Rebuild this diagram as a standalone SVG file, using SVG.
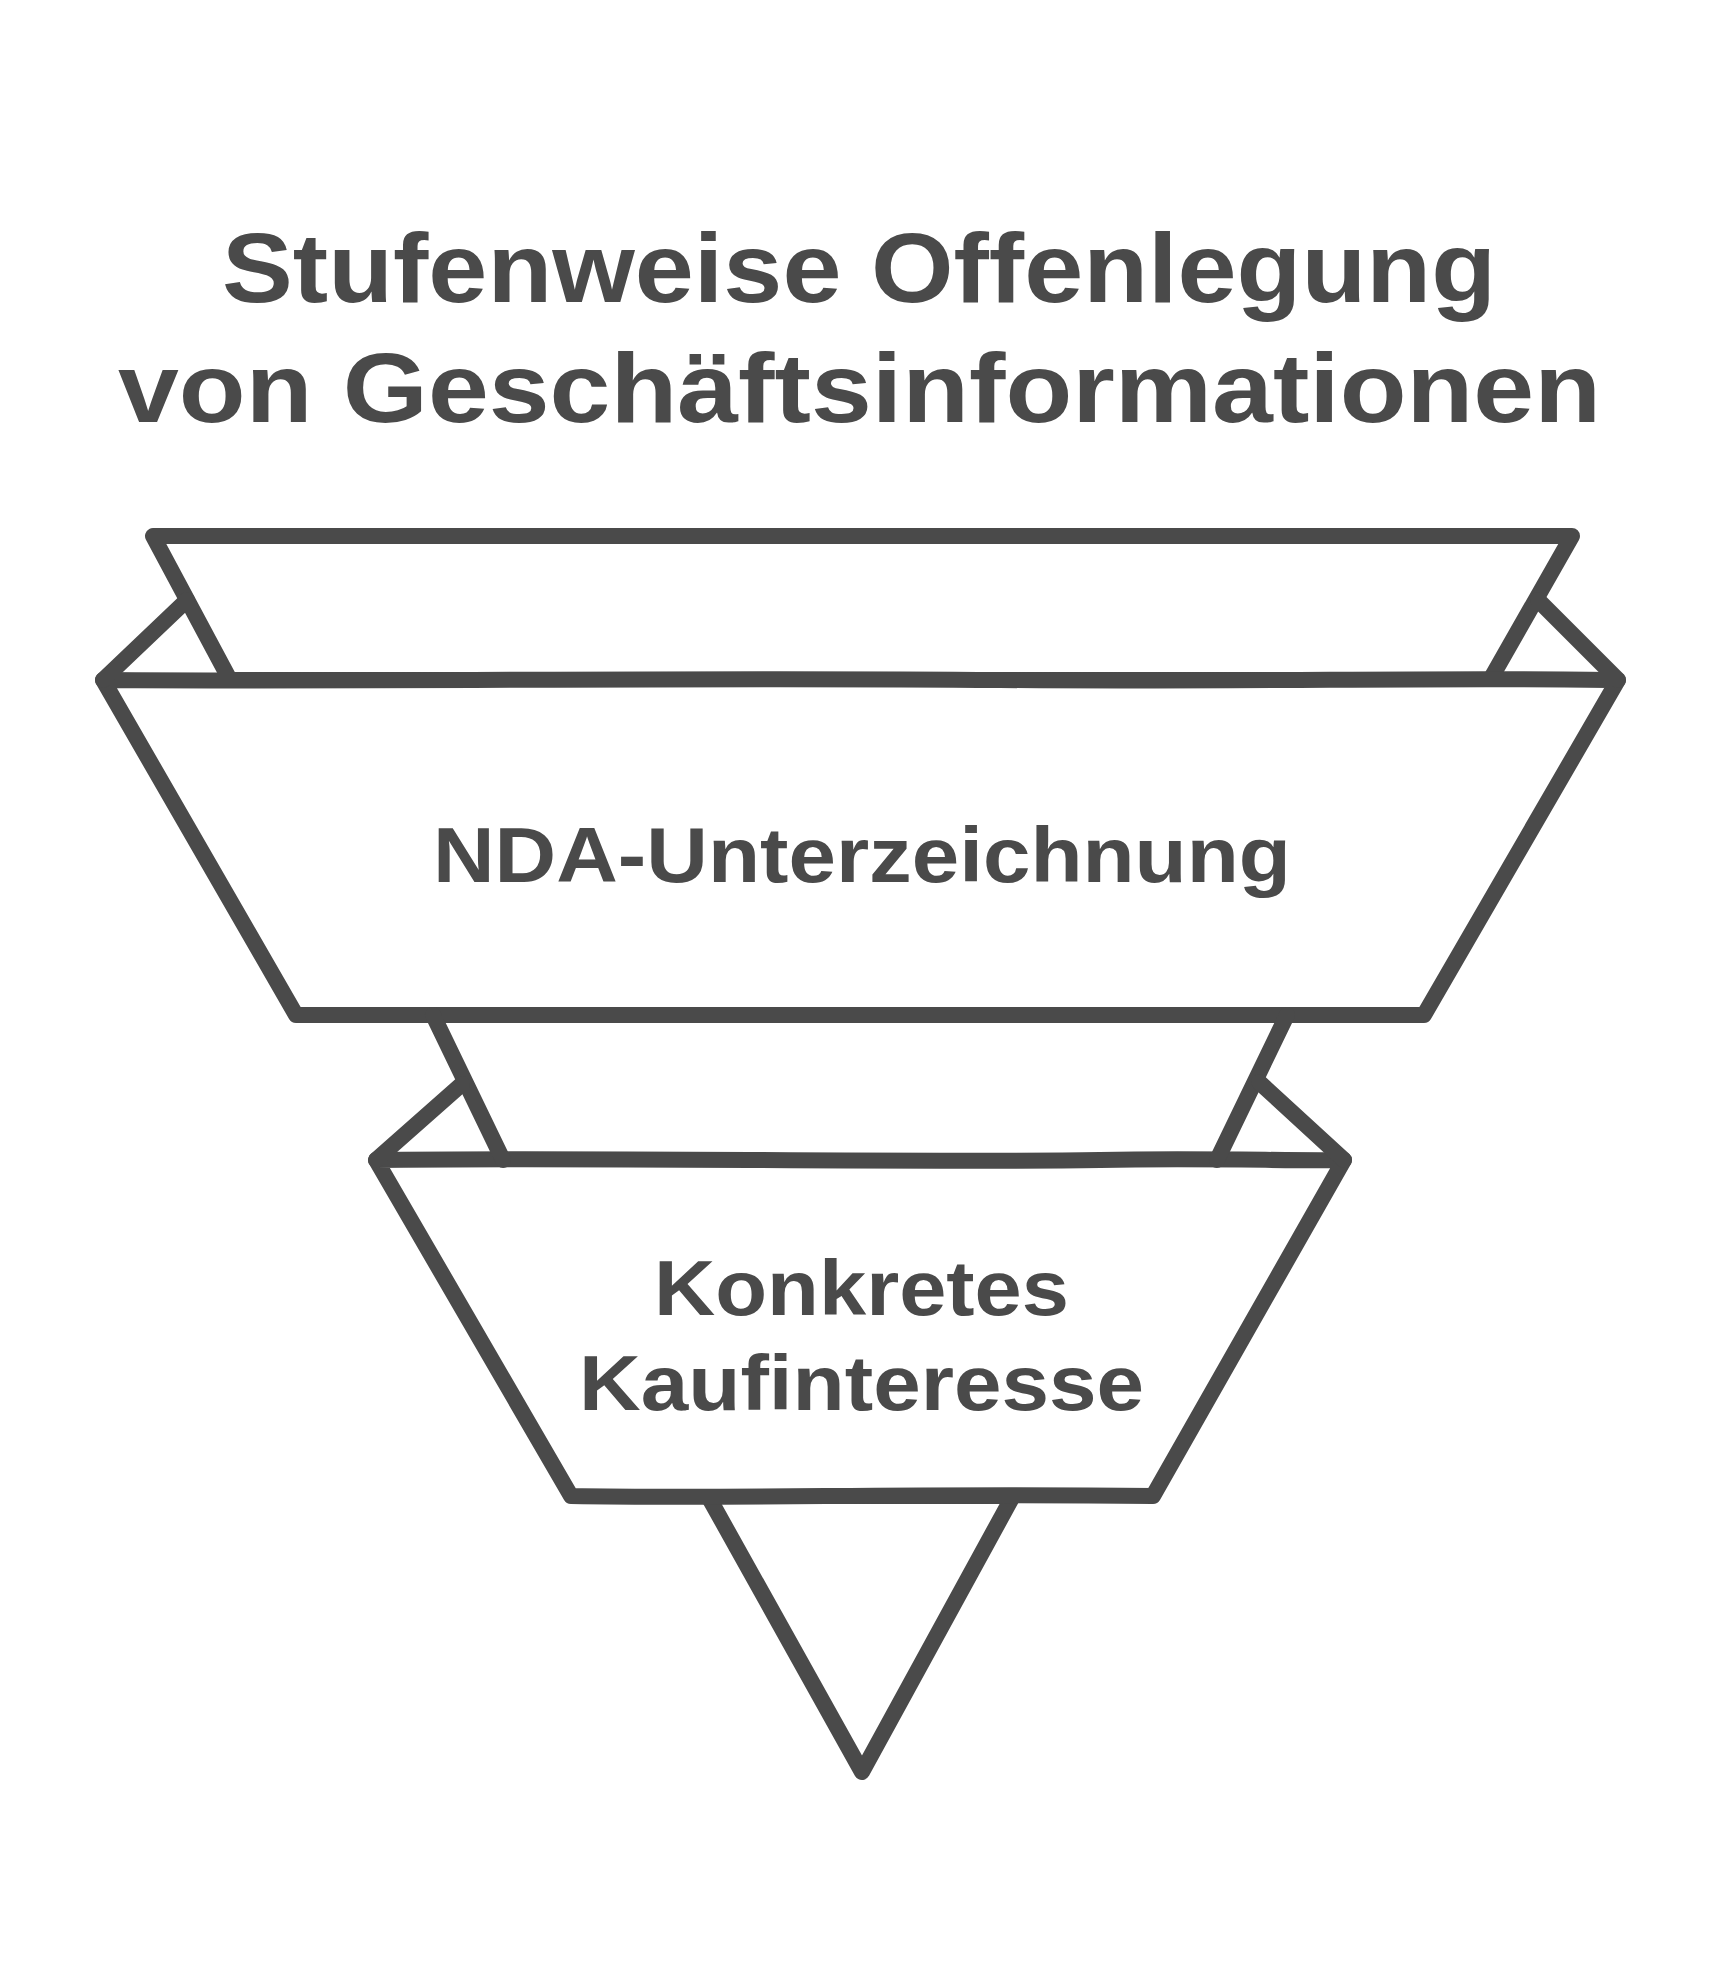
<svg xmlns="http://www.w3.org/2000/svg" width="1720" height="1984" viewBox="0 0 1720 1984">
  <style>
    .ln { fill: none; stroke: #4a4a4a; stroke-width: 16; stroke-linecap: round; stroke-linejoin: round; }
    .sh { fill: #ffffff; stroke: #4a4a4a; stroke-width: 16; stroke-linecap: round; stroke-linejoin: round; }
    .t { font-family: "Liberation Sans", "Noto Sans", sans-serif; font-weight: 700; fill: #4a4a4a; text-anchor: middle; }
    .title { font-size: 98px; }
    .lbl { font-size: 78px; }
  </style>
  <rect width="1720" height="1984" fill="#ffffff"/>

  <g id="title">
    <text class="t title" x="859" y="302" textLength="1274" lengthAdjust="spacingAndGlyphs">Stufenweise Offenlegung</text>
    <text class="t title" x="859.5" y="422" textLength="1483" lengthAdjust="spacingAndGlyphs">von Geschäftsinformationen</text>
  </g>

  <g id="stage-bottom">
    <path class="sh" d="M708,1496 L1013,1496 L862,1772 Z"/>
  </g>

  <g id="stage-top">
    <path class="sh" d="M153,536 C500,533 900,539 1572,536 L1490,680 L230,680 Z"/>
  </g>

  <g id="stage-nda">
    <path class="sh" d="M103,680 C400,682 700,677 1000,680 C1250,682 1450,677 1618,680 L1424,1015 C1100,1012 700,1018 296,1015 Z"/>
    <text class="t lbl" x="862" y="882" textLength="858" lengthAdjust="spacingAndGlyphs">NDA-Unterzeichnung</text>
  </g>

  <g id="stage-kauf">
    <path class="sh" d="M376,1160 C600,1157 900,1163 1100,1160 C1200,1158 1300,1161 1344,1160 L1153,1496 C900,1493 750,1499 571,1496 Z"/>
    <text class="t lbl" x="861.5" y="1315" textLength="415" lengthAdjust="spacingAndGlyphs">Konkretes</text>
    <text class="t lbl" x="861.5" y="1410" textLength="565" lengthAdjust="spacingAndGlyphs">Kaufinteresse</text>
  </g>

  <g id="folds">
    <path class="ln" d="M187,600 L103,680"/>
    <path class="ln" d="M1538,600 L1618,680"/>
    <path class="ln" d="M433,1015 L503,1160"/>
    <path class="ln" d="M1287,1015 L1217,1160"/>
    <path class="ln" d="M462,1084 L376,1160"/>
    <path class="ln" d="M1259,1082 L1344,1160"/>
  </g>
</svg>
